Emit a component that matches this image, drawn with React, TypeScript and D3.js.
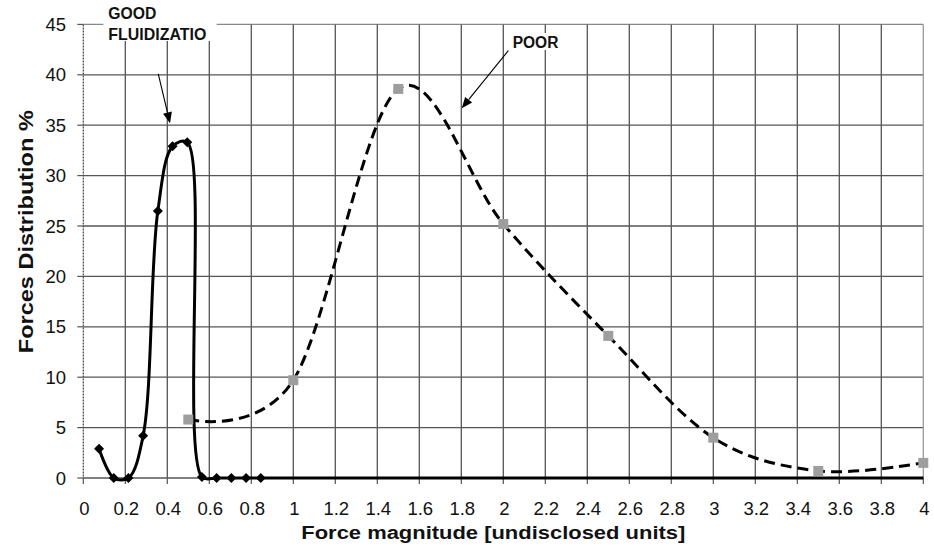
import React from "react";
import * as d3 from "d3";

// ---- data ----
const goodX = [0.075, 0.145, 0.215, 0.285, 0.355, 0.425, 0.495, 0.565, 0.635, 0.705, 0.775, 0.845];
const goodY = [2.9, 0, 0, 4.2, 26.5, 32.9, 33.3, 0.1, 0, 0, 0, 0];
const goodTailX = [4];
const goodTailY = [0];

const poorX = [0.5, 1, 1.5, 2, 2.5, 3, 3.5, 4];
const poorY = [5.8, 9.7, 38.6, 25.2, 14.1, 4.0, 0.7, 1.5];

const xTicks = d3.range(0, 21).map((i) => i * 0.2);
const yTicks = [0, 5, 10, 15, 20, 25, 30, 35, 40, 45];

const xTitle = "Force magnitude [undisclosed units]";
const yTitle = "Forces Distribution %";
const goodLabel = ["GOOD", "FLUIDIZATIO"];
const poorLabel = "POOR";

const W = 934;
const H = 550;

export default function App() {
  const x = d3.scaleLinear().domain([0, 4]).range([83.3, 923.3]);
  const y = d3.scaleLinear().domain([0, 45]).range([478, 24.4]);

  const goodPts: [number, number][] = goodX.map((v, i) => [x(v), y(goodY[i])]);
  const tailPts: [number, number][] = goodTailX.map((v, i) => [x(v), y(goodTailY[i])]);
  const poorPts: [number, number][] = poorX.map((v, i) => [x(v), y(poorY[i])]);

  const lineGood = d3.line().curve(d3.curveCatmullRom.alpha(0.5));
  const lineStraight = d3.line();
  const linePoor = d3.line().curve(d3.curveCatmullRom.alpha(0));

  const diamond = d3.symbol().type(d3.symbolSquare).size(50)();
  const square = d3.symbol().type(d3.symbolSquare).size(100)();

  const fmt = (v: number) => String(+v.toFixed(1));

  const arrow = (x1: number, y1: number, x2: number, y2: number, key: string) => {
    const dx = x2 - x1;
    const dy = y2 - y1;
    const len = Math.sqrt(dx * dx + dy * dy);
    const ux = dx / len;
    const uy = dy / len;
    const hl = 11;
    const hw = 4.5;
    const bx = x2 - ux * hl;
    const by = y2 - uy * hl;
    const p = `M${x2},${y2}L${bx - uy * hw},${by + ux * hw}L${bx + uy * hw},${by - ux * hw}Z`;
    return (
      <g key={key}>
        <line x1={x1} y1={y1} x2={bx} y2={by} stroke="#000" strokeWidth={1.1} />
        <path d={p} fill="#000" />
      </g>
    );
  };

  const gridColor = "#555";

  return (
    <svg
      width={W}
      height={H}
      style={{ position: "absolute", left: 0, top: 0, background: "#fff" }}
      fontFamily="Arial, 'Liberation Sans', sans-serif"
    >
      <rect x={0} y={0} width={W} height={H} fill="#fff" />
      {/* horizontal grid */}
      {yTicks.map((t) => (
        <line key={"hy" + t} x1={x(0)} x2={x(4)} y1={y(t)} y2={y(t)} stroke={t === 45 ? "#888" : gridColor} strokeWidth={1.3} />
      ))}
      {/* vertical grid */}
      {xTicks.slice(1).map((t) => (
        <line key={"vx" + t} x1={x(t)} x2={x(t)} y1={y(45)} y2={y(0)} stroke={t === 4 ? "#999" : gridColor} strokeWidth={1.3} />
      ))}
      {/* left axis */}
      <line x1={x(0)} x2={x(0)} y1={y(45)} y2={y(0)} stroke="#444" strokeWidth={1.2} strokeDasharray="2,1" />
      {yTicks.map((t) => (
        <line key={"ty" + t} x1={x(0) - 6} x2={x(0)} y1={y(t)} y2={y(t)} stroke="#555" strokeWidth={1.2} />
      ))}
      {xTicks.map((t) => (
        <line key={"tx" + t} x1={x(t)} x2={x(t)} y1={y(0)} y2={y(0) + 6} stroke="#555" strokeWidth={1.2} />
      ))}

      {/* tick labels */}
      {yTicks.map((t) => (
        <text key={"ly" + t} x={66} y={y(t) + 6.6} textAnchor="end" fontSize={18.5} fill="#111">
          {t}
        </text>
      ))}
      {xTicks.map((t) => (
        <text key={"lx" + t} x={x(t) + 1} y={515} textAnchor="middle" fontSize={18.5} fill="#111">
          {fmt(t)}
        </text>
      ))}

      {/* axis titles */}
      <text
        x={493.3}
        y={539}
        textAnchor="middle"
        fontSize={17.5}
        fontWeight="bold"
        textLength={384}
        lengthAdjust="spacingAndGlyphs"
        fill="#111"
      >
        {xTitle}
      </text>
      <text
        transform="translate(33.3,231.7) rotate(-90)"
        textAnchor="middle"
        fontSize={20}
        fontWeight="bold"
        textLength={243}
        lengthAdjust="spacingAndGlyphs"
        fill="#111"
      >
        {yTitle}
      </text>

      {/* POOR series */}
      <path d={linePoor(poorPts) || ""} fill="none" stroke="#000" strokeWidth={3} strokeDasharray="11,6" />

      {/* GOOD series */}
      <path d={lineGood(goodPts) || ""} fill="none" stroke="#000" strokeWidth={3} />
      <path
        d={lineStraight([goodPts[goodPts.length - 1], ...tailPts]) || ""}
        fill="none"
        stroke="#000"
        strokeWidth={3}
      />

      {poorPts.map((p, i) => (
        <path key={"sq" + i} d={square || ""} transform={`translate(${p[0]},${p[1]})`} fill="#9e9e9e" />
      ))}
      {goodPts.map((p, i) => (
        <path key={"dm" + i} d={diamond || ""} transform={`translate(${p[0]},${p[1]}) rotate(45)`} fill="#000" />
      ))}

      {/* annotations */}
      <rect x={103.3} y={0} width={113.4} height={41} fill="#fff" />
      <text x={108.3} y={19.3} fontSize={16.5} fontWeight="bold" fill="#111" textLength={48} lengthAdjust="spacingAndGlyphs">
        {goodLabel[0]}
      </text>
      <text x={108.3} y={40} fontSize={16.5} fontWeight="bold" fill="#111" textLength={98} lengthAdjust="spacingAndGlyphs">
        {goodLabel[1]}
      </text>
      {arrow(x(0.357), y(40.08), x(0.413), y(35.19), "a1")}

      <rect x={510} y={33} width={51} height={17} fill="#fff" />
      <text x={512.7} y={47.7} fontSize={16} fontWeight="bold" fill="#111" textLength={45.7} lengthAdjust="spacingAndGlyphs">
        {poorLabel}
      </text>
      {arrow(x(2.024), y(42.39), x(1.802), y(36.68), "a2")}
    </svg>
  );
}
